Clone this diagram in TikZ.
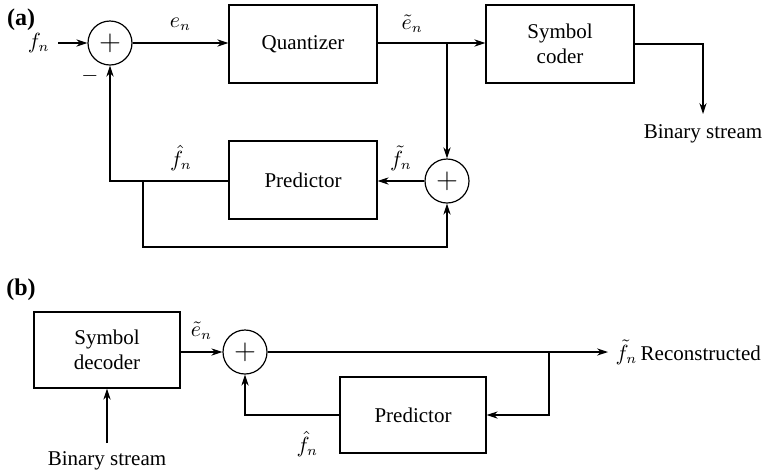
\documentclass[tikz,border=0pt]{standalone}
\usepackage{fontspec}
\setmainfont{Liberation Serif}
\usetikzlibrary{arrows.meta,calc,positioning}

\begin{document}
\begin{tikzpicture}[x=0.5pt, y=-0.5pt, >={Stealth[length=5.5pt,width=3.6pt]},
  line width=0.6pt, font=\fontsize{10.5}{12.5}\selectfont,
  block/.style={draw, minimum width=74pt, minimum height=39pt, align=center, inner sep=2pt},
  sum/.style={draw, circle, minimum size=22pt, inner sep=0pt},
  lbl/.style={inner sep=1pt},
  tag/.style={font=\fontsize{12}{14}\selectfont\bfseries}]
\useasboundingbox (0,0) rectangle (763,473);

% ---- (a) encoder ----
\node[tag] (tagA) at (21,20) {(a)};
\node[sum] (sumA) at (110,43) {\Large$\mathbf{+}$};
\node[block] (quant) at (303,44) {Quantizer};
\node[block] (coder) at (560,44) {Symbol\\coder};
\node[block] (predA) at (303,180) {Predictor};
\node[sum] (sumB) at (447,181) {\Large$\mathbf{+}$};
\node[lbl] (minus) at (90,76) {$-$};

\coordinate (fin) at (58,43);
\coordinate (jA) at (sumB |- sumA);
\coordinate (jB) at (143,181);
\coordinate (loopA) at (143,247);
\coordinate (bsA) at (703,114);

\node[lbl, left=3pt of fin] (fA) {$f_n$};
\draw[->] (fin) -- (sumA);
\draw[->] (sumA) -- node[lbl, above=5pt] (eA) {$e_n$} (quant.west |- sumA);
\draw[->] (quant.east |- sumA) -- node[lbl, above=4pt, pos=0.32] (etA) {$\tilde{e}_n$} (coder.west |- sumA);
\draw[->] (coder.east) -| (bsA) node[lbl, below=4pt] (binA) {Binary stream};
\draw[->] (jA) -- (sumB);
\draw[->] (sumB) -- node[lbl, above=4pt] (ftA) {$\tilde{f}_n$} (predA.east |- sumB);
\draw[->] (predA.west |- sumB) -| node[lbl, above=4pt, pos=0.2] (fhA) {$\hat{f}_n$} (sumA);
\draw[->] (jB) -- (loopA) -| (sumB);

% ---- (b) decoder ----
\node[tag] (tagB) at (21,290) {(b)};
\node[block, minimum width=73pt, minimum height=38pt] (dec) at (107,350) {Symbol\\decoder};
\node[sum] (sumC) at (245,352) {\Large$\mathbf{+}$};
\node[block, minimum width=73pt, minimum height=38pt] (predB) at (413,415) {Predictor};

\coordinate (binIn) at (107,443);
\coordinate (outB) at (608,352);
\coordinate (jC) at (549,352);

\draw[->] (binIn) node[lbl, below=3pt] (binB) {Binary stream} -- (dec);
\draw[->] (dec.east |- sumC) -- node[lbl, above=5pt] (etB) {$\tilde{e}_n$} (sumC);
\draw[->] (sumC) -- (outB) node[lbl, right=2.5pt] (recB) {$\tilde{f}_n$\,Reconstructed};
\draw[->] (jC) |- (predB);
\draw[->] (predB) -| node[lbl, below=7pt, pos=0.17] (fhB) {$\hat{f}_n$} (sumC);

\end{tikzpicture}
\end{document}
